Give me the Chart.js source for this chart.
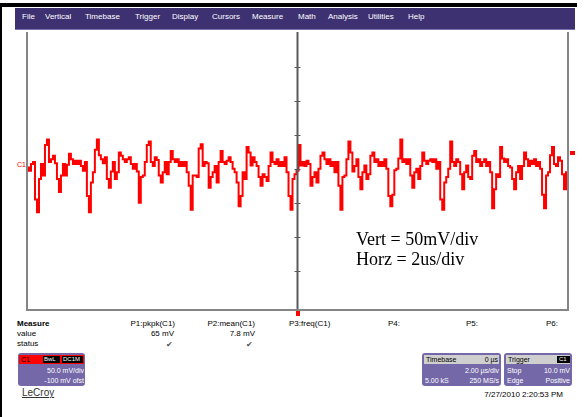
<!DOCTYPE html>
<html>
<head>
<meta charset="utf-8">
<script src="https://cdn.jsdelivr.net/npm/chart.js"></script>
<style>
body { margin: 0; width: 586px; height: 417px; background: #fff; position: relative; overflow: hidden; font-family: "Liberation Sans", Arial, sans-serif; }
.a { position: absolute; }
.s { position: absolute; font-size: 8px; white-space: nowrap; line-height: 9px; }
.m { position: absolute; top: 12px; color: #fff; font-size: 8px; white-space: nowrap; }
.box { position: absolute; background: #7468a8; border-radius: 3px; }
.w { color: #fff; }
</style>
</head>
<body>

<div class="a" style="left:0;top:3px;width:577px;height:4px;background:#000"></div>
<div class="a" style="left:0;top:3px;width:2px;height:414px;background:#000"></div>

<!-- menu bar -->
<div class="a" style="left:15px;top:8px;width:560px;height:21px;background:#3e3172;border-bottom:1px solid #7a70aa"></div>
<div id="menu"></div>

<!-- plot frame -->
<div class="a" style="left:26px;top:32px;width:2px;height:278px;background:#858585"></div>
<div class="a" style="left:567px;top:32px;width:2px;height:278px;background:#858585"></div>
<div class="a" style="left:26px;top:309px;width:543px;height:2px;background:#858585"></div>
<canvas id="graph" class="a" style="left:28px;top:32px"></canvas>

<!-- markers -->
<div class="s" style="left:17px;top:160px;color:#f00;font-size:7px">C1</div>
<div class="a" style="left:570px;top:151px;width:5px;height:4px;background:#f00"></div>
<div class="a" style="left:296px;top:311px;width:4px;height:5px;background:#f00"></div>

<div class="a" style="left:356px;top:229px;font:18px 'Liberation Serif', 'Times New Roman', serif;line-height:20px;white-space:nowrap">Vert = 50mV/div<br>Horz = 2us/div</div>

<!-- measure table -->
<div class="s" style="left:17px;top:319px;font-weight:bold">Measure</div>
<div class="s" style="left:17px;top:329px">value</div>
<div class="s" style="left:17px;top:339px">status</div>
<div class="s" style="right:411px;top:319px">P1:pkpk(C1)</div>
<div class="s" style="right:331px;top:319px">P2:mean(C1)</div>
<div class="s" style="left:289px;top:319px">P3:freq(C1)</div>
<div class="s" style="left:388px;top:319px">P4:</div>
<div class="s" style="left:466px;top:319px">P5:</div>
<div class="s" style="left:546px;top:319px">P6:</div>
<div class="s" style="right:412px;top:329px">65 mV</div>
<div class="s" style="right:331px;top:329px">7.8 mV</div>
<div class="s" style="left:166px;top:340px;color:#555">&#10004;</div>
<div class="s" style="left:246px;top:340px;color:#555">&#10004;</div>

<!-- channel box -->
<div class="box" style="left:18px;top:353px;width:67px;height:33px"></div>
<div class="a" style="left:19px;top:355px;width:65px;height:9px;background:#f00"></div>
<div class="s" style="left:21px;top:355px;font-size:7px">C1</div>
<div class="a" style="left:43px;top:356px;width:17px;height:7px;background:#000"></div>
<div class="a" style="left:62px;top:356px;width:21px;height:7px;background:#000"></div>
<div class="s w" style="left:44px;top:355px;font-size:6px">BwL</div>
<div class="s w" style="left:63px;top:355px;font-size:6px">DC1M</div>
<div class="s w" style="right:502px;top:366px;font-size:7px">50.0 mV/div</div>
<div class="s w" style="right:502px;top:376px;font-size:7px">-100 mV ofst</div>
<div class="a" style="left:22px;top:387px;font-size:10px;color:#333;text-decoration:underline">LeCroy</div>

<!-- timebase / trigger boxes -->
<div class="box" style="left:422px;top:353px;width:79px;height:33px"></div>
<div class="a" style="left:424px;top:355px;width:75px;height:9px;background:#cfcfcf"></div>
<div class="s" style="left:426px;top:355px;font-size:7px">Timebase</div>
<div class="s" style="right:88px;top:355px;font-size:7px">0 µs</div>
<div class="s w" style="right:87px;top:366px;font-size:7px">2.00 µs/div</div>
<div class="s w" style="left:425px;top:376px;font-size:7px">5.00 kS</div>
<div class="s w" style="right:87px;top:376px;font-size:7px">250 MS/s</div>

<div class="box" style="left:504px;top:353px;width:68px;height:33px"></div>
<div class="a" style="left:506px;top:355px;width:64px;height:9px;background:#cfcfcf"></div>
<div class="s" style="left:508px;top:355px;font-size:7px">Trigger</div>
<div class="a" style="left:557px;top:356px;width:13px;height:7px;background:#000"></div>
<div class="s w" style="left:559px;top:355px;font-size:6px">C1</div>
<div class="s w" style="left:507px;top:366px;font-size:7px">Stop</div>
<div class="s w" style="right:16px;top:366px;font-size:7px">10.0 mV</div>
<div class="s w" style="left:507px;top:376px;font-size:7px">Edge</div>
<div class="s w" style="right:16px;top:376px;font-size:7px">Positive</div>

<div class="s" style="right:23px;top:390px">7/27/2010 2:20:53 PM</div>

<script>
var menuItems = ["File", "Vertical", "Timebase", "Trigger", "Display", "Cursors", "Measure", "Math", "Analysis", "Utilities", "Help"]
var menuLeft = [22, 45, 85, 135, 172, 212, 252, 298, 328, 368, 408]

// C1 samples in mV, one every 2 px of screen (271 samples across 20 us)
var traceMv = [
    2, -3, 7, 10, -45, -64, -15, 7, -10, 35,
    43, 10, 14, 19, 8, -15, -34, -10, 7, -10,
    6, 22, 14, 7, 12, 7, 12, 4, -3, 10,
    -40, -64, -20, -5, 28, 43, 20, 14, 8, 17,
    -15, -28, -4, 10, -15, -5, 24, 19, 14, 10,
    14, 17, 7, 0, 7, -4, -50, -12, -10, 10,
    35, 40, 10, 4, 17, 13, -10, -20, -5, 10,
    -8, 10, 26, 14, 10, 14, 4, 10, 4, 10,
    -5, -25, -60, -10, -10, -12, 30, 36, 4, 10,
    8, -28, -12, -5, 4, -20, 10, 26, 10, 7,
    12, 17, 10, 0, -5, -20, -55, -40, -5, -15,
    32, 24, 5, 17, 10, 4, -12, -25, -8, -12,
    -18, 4, 24, 10, 7, 14, 4, 10, 4, 17,
    -5, -40, -60, -15, -8, -3, 35, 5, 10, 4,
    12, 7, -25, -12, -5, -20, 0, 19, 24, 14,
    7, 14, 4, 10, -5, 10, -25, -60, -12, -10,
    14, 40, 24, -4, 4, 14, -12, -30, -5, 5,
    -15, -8, 19, 24, 10, 14, 4, 10, 4, 14,
    0, -40, -55, -38, -2, 0, 15, 43, 10, 14,
    7, 14, -10, -28, -5, 0, -15, 4, 24, 12,
    7, 12, 14, 10, 14, 0, 10, -45, -60, -20,
    -12, 0, 40, 10, 4, 14, 10, -8, -30, -5,
    5, -12, -15, 19, 26, 10, 14, 4, 10, 14,
    4, 10, -5, -58, -30, -8, -12, 32, 15, 10,
    14, 4, 2, -15, -30, -5, 4, -15, 4, 24,
    14, 4, 12, 7, 14, 4, 10, 0, -38, -58,
    -10, -5, 20, 32, 7, 4, 17, 12, -8, -30, -5
]

var divTicks = [-150, -100, -50, 0, 50, 100, 150]

// menu labels
var menu = document.getElementById("menu")
menuItems.forEach((name, i) => {
    var d = document.createElement("div")
    d.className = "m"
    d.style.left = menuLeft[i] + "px"
    d.textContent = name
    menu.appendChild(d)
})

// sample times from -10us to +10us
var points = []
for (let i = 0; i < traceMv.length; i++) {
    points.push({ x: -10 + i * 20 / (traceMv.length - 1), y: traceMv[i] })
}

// center graticule line with small division ticks
var centerLine = {
    id: "centerLine",
    afterDatasetsDraw(chart) {
        var ctx = chart.ctx
        var x = chart.scales.x.getPixelForValue(0)
        ctx.save()
        ctx.strokeStyle = "#5a5a5a"
        ctx.lineWidth = 2
        ctx.beginPath()
        ctx.moveTo(x, chart.chartArea.top)
        ctx.lineTo(x, chart.chartArea.bottom)
        ctx.stroke()
        ctx.lineWidth = 1
        divTicks.forEach(v => {
            var y = Math.round(chart.scales.y.getPixelForValue(v)) + 0.5
            ctx.beginPath()
            ctx.moveTo(x - 3, y)
            ctx.lineTo(x + 3, y)
            ctx.stroke()
        })
        ctx.restore()
    }
}

var canvas = document.getElementById("graph")
canvas.width = 539
canvas.height = 277

// scope trace is sample-and-hold, so draw it stepped
var graph = new Chart(canvas, {
    type: "line",
    data: {
        datasets: [{
            data: points,
            borderColor: "#ff0000",
            borderWidth: 2,
            pointRadius: 0,
            stepped: "middle",
            fill: false
        }]
    },
    options: {
        responsive: false,
        animation: false,
        layout: { padding: 0 },
        plugins: { legend: { display: false }, tooltip: { enabled: false } },
        scales: {
            x: { type: "linear", min: -10, max: 10, display: false },
            y: { min: -206, max: 201, display: false }
        }
    },
    plugins: [centerLine]
})
</script>
</body>
</html>
